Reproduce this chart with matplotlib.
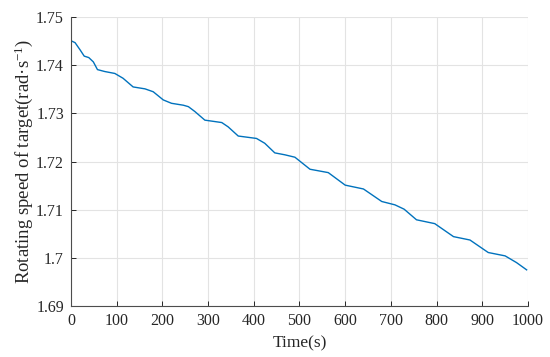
import matplotlib
matplotlib.use("Agg")
import matplotlib.pyplot as plt

# values
time_s = [0, 9, 20, 29, 39, 49, 58, 74, 96, 114, 136, 162, 180, 202, 220, 246,
          257, 271, 293, 330, 344, 366, 406, 424, 446, 468, 490, 523, 563, 600,
          640, 680, 709, 729, 756, 796, 837, 873, 913, 950, 975, 997]
speed = [1.7451, 1.7447, 1.7432, 1.7419, 1.7416, 1.7407, 1.7391, 1.7387, 1.7383,
         1.7373, 1.7355, 1.7351, 1.7345, 1.7328, 1.7321, 1.7317, 1.7314, 1.7304,
         1.7286, 1.7281, 1.7272, 1.7253, 1.7248, 1.7238, 1.7218, 1.7214, 1.7209,
         1.7184, 1.7177, 1.7151, 1.7143, 1.7117, 1.7110, 1.7101, 1.7079, 1.7071,
         1.7044, 1.7037, 1.7011, 1.7004, 1.6990, 1.6975]

xticks = [0, 100, 200, 300, 400, 500, 600, 700, 800, 900, 1000]
yticks = [1.69, 1.70, 1.71, 1.72, 1.73, 1.74, 1.75]
ytick_labels = ["1.69", "1.7", "1.71", "1.72", "1.73", "1.74", "1.75"]

plt.rcParams['font.family'] = ['Liberation Serif', 'DejaVu Serif']
plt.rcParams['mathtext.fontset'] = 'custom'
plt.rcParams['mathtext.rm'] = 'Liberation Serif'
plt.rcParams['mathtext.it'] = 'Liberation Serif:italic'

fig = plt.figure(figsize=(5.5, 3.57), dpi=100)
ax = fig.add_axes([0.129, 0.143, 0.831, 0.809])

ax.plot(time_s, speed, color="#0072BD", lw=1.0)

ax.set_xlim(0, 1000)
ax.set_ylim(1.69, 1.75)
ax.set_xticks(xticks)
ax.set_yticks(yticks)
ax.set_yticklabels(ytick_labels)
ax.tick_params(direction="in", length=3.5, width=0.7, colors="#262626",
               labelsize=11.5, pad=5)
ax.grid(True, color="#e3e3e3", lw=0.8)
ax.set_axisbelow(True)
for s in ["top", "right"]:
    ax.spines[s].set_visible(False)
for s in ["left", "bottom"]:
    ax.spines[s].set_color("#4d4d4d")
    ax.spines[s].set_linewidth(0.8)

ax.set_xlabel("Time(s)", fontsize=12.5, color="#262626", labelpad=5)
ax.set_ylabel(r"Rotating speed of target(rad·s$^{-1}$)", fontsize=13.5,
              color="#262626", labelpad=1)

fig.savefig("out.png", dpi=100)
